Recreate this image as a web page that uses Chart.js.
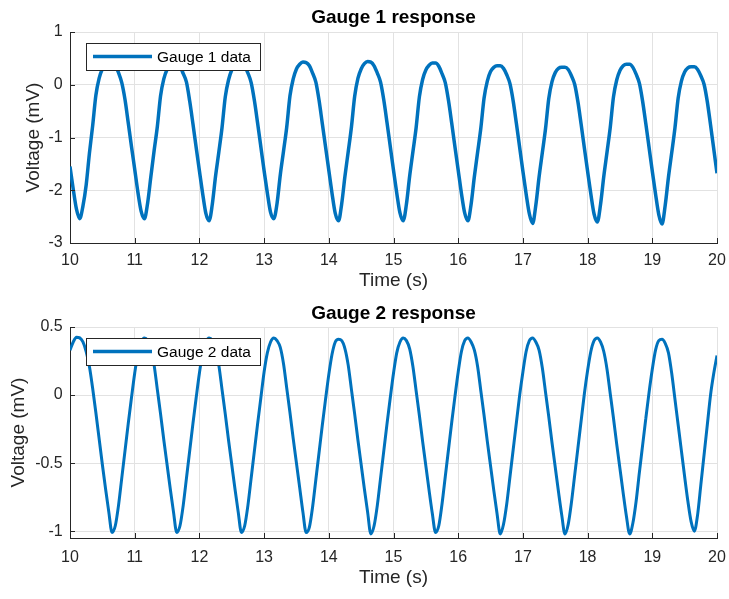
<!DOCTYPE html>
<html>
<head>
<meta charset="utf-8">
<title>Gauge responses</title>
<script src="https://cdn.jsdelivr.net/npm/chart.js@4.4.1/dist/chart.umd.min.js"></script>
<style>
  html, body { margin: 0; padding: 0; background: #fff; }
  #figure { position: relative; width: 729px; height: 599px; }
  #figure canvas { position: absolute; left: 0; }
  #gauge1-chart { top: 0; }
  #gauge2-chart { top: 299px; }
</style>
</head>
<body>
<div id="figure">
  <canvas id="gauge1-chart" width="729" height="299"></canvas>
  <canvas id="gauge2-chart" width="729" height="300"></canvas>
</div>
<script>
// sample times (s), one row per second
const times = [
  10, 10.05, 10.1, 10.15, 10.2, 10.25, 10.3, 10.35, 10.4, 10.45, 10.5, 10.55, 10.6, 10.65, 10.7, 10.75, 10.8, 10.85, 10.9, 10.95,
  11, 11.05, 11.1, 11.15, 11.2, 11.25, 11.3, 11.35, 11.4, 11.45, 11.5, 11.55, 11.6, 11.65, 11.7, 11.75, 11.8, 11.85, 11.9, 11.95,
  12, 12.05, 12.1, 12.15, 12.2, 12.25, 12.3, 12.35, 12.4, 12.45, 12.5, 12.55, 12.6, 12.65, 12.7, 12.75, 12.8, 12.85, 12.9, 12.95,
  13, 13.05, 13.1, 13.15, 13.2, 13.25, 13.3, 13.35, 13.4, 13.45, 13.5, 13.55, 13.6, 13.65, 13.7, 13.75, 13.8, 13.85, 13.9, 13.95,
  14, 14.05, 14.1, 14.15, 14.2, 14.25, 14.3, 14.35, 14.4, 14.45, 14.5, 14.55, 14.6, 14.65, 14.7, 14.75, 14.8, 14.85, 14.9, 14.95,
  15, 15.05, 15.1, 15.15, 15.2, 15.25, 15.3, 15.35, 15.4, 15.45, 15.5, 15.55, 15.6, 15.65, 15.7, 15.75, 15.8, 15.85, 15.9, 15.95,
  16, 16.05, 16.1, 16.15, 16.2, 16.25, 16.3, 16.35, 16.4, 16.45, 16.5, 16.55, 16.6, 16.65, 16.7, 16.75, 16.8, 16.85, 16.9, 16.95,
  17, 17.05, 17.1, 17.15, 17.2, 17.25, 17.3, 17.35, 17.4, 17.45, 17.5, 17.55, 17.6, 17.65, 17.7, 17.75, 17.8, 17.85, 17.9, 17.95,
  18, 18.05, 18.1, 18.15, 18.2, 18.25, 18.3, 18.35, 18.4, 18.45, 18.5, 18.55, 18.6, 18.65, 18.7, 18.75, 18.8, 18.85, 18.9, 18.95,
  19, 19.05, 19.1, 19.15, 19.2, 19.25, 19.3, 19.35, 19.4, 19.45, 19.5, 19.55, 19.6, 19.65, 19.7, 19.75, 19.8, 19.85, 19.9, 19.95,
  20
];

// gauge 1 voltage (mV)
const gauge1Voltage = [
  -1.55, -1.98, -2.36, -2.54, -2.30, -1.90, -1.30, -0.78, -0.20, 0.12, 0.30, 0.38, 0.42, 0.41, 0.36, 0.23, 0.04, -0.28, -0.72, -1.17,
  -1.60, -2.04, -2.40, -2.54, -2.24, -1.74, -1.25, -0.79, -0.21, 0.11, 0.29, 0.38, 0.42, 0.40, 0.35, 0.21, 0.05, -0.31, -0.74, -1.19,
  -1.63, -2.06, -2.44, -2.58, -2.26, -1.73, -1.28, -0.81, -0.23, 0.09, 0.28, 0.38, 0.42, 0.41, 0.34, 0.22, 0.04, -0.30, -0.73, -1.18,
  -1.63, -2.05, -2.42, -2.54, -2.25, -1.71, -1.26, -0.80, -0.21, 0.11, 0.30, 0.39, 0.43, 0.42, 0.36, 0.22, 0.05, -0.30, -0.74, -1.18,
  -1.62, -2.06, -2.44, -2.58, -2.25, -1.73, -1.27, -0.80, -0.22, 0.12, 0.30, 0.40, 0.44, 0.43, 0.36, 0.22, 0.05, -0.29, -0.72, -1.17,
  -1.62, -2.05, -2.43, -2.58, -2.26, -1.73, -1.27, -0.81, -0.23, 0.10, 0.28, 0.37, 0.41, 0.41, 0.35, 0.21, 0.04, -0.30, -0.73, -1.18,
  -1.62, -2.06, -2.43, -2.58, -2.26, -1.74, -1.28, -0.82, -0.25, 0.07, 0.25, 0.33, 0.36, 0.36, 0.31, 0.19, 0.02, -0.31, -0.74, -1.19,
  -1.64, -2.07, -2.45, -2.63, -2.28, -1.75, -1.29, -0.83, -0.26, 0.06, 0.23, 0.31, 0.33, 0.33, 0.29, 0.17, 0.01, -0.32, -0.75, -1.20,
  -1.64, -2.07, -2.45, -2.60, -2.27, -1.74, -1.28, -0.81, -0.23, 0.09, 0.27, 0.36, 0.39, 0.39, 0.33, 0.20, 0.03, -0.31, -0.74, -1.19,
  -1.64, -2.07, -2.46, -2.64, -2.28, -1.75, -1.29, -0.82, -0.25, 0.07, 0.24, 0.32, 0.34, 0.34, 0.29, 0.17, 0.01, -0.32, -0.76, -1.22,
  -1.68
];

// gauge 2 voltage (mV)
const gauge2Voltage = [
  0.33, 0.39, 0.425, 0.42, 0.39, 0.32, 0.21, 0.05, -0.13, -0.32, -0.51, -0.69, -0.86, -1.01, -0.96, -0.81, -0.61, -0.41, -0.21, -0.02,
  0.16, 0.31, 0.39, 0.42, 0.40, 0.34, 0.22, 0.04, -0.14, -0.33, -0.51, -0.69, -0.86, -1.01, -0.96, -0.81, -0.61, -0.41, -0.21, -0.02,
  0.16, 0.31, 0.39, 0.42, 0.40, 0.34, 0.22, 0.04, -0.14, -0.33, -0.51, -0.69, -0.86, -1.01, -0.96, -0.81, -0.61, -0.41, -0.21, -0.02,
  0.17, 0.31, 0.39, 0.42, 0.40, 0.35, 0.23, 0.05, -0.13, -0.32, -0.50, -0.68, -0.86, -1.01, -0.97, -0.82, -0.62, -0.42, -0.22, -0.03,
  0.15, 0.30, 0.39, 0.41, 0.40, 0.34, 0.22, 0.04, -0.14, -0.33, -0.51, -0.69, -0.86, -1.02, -0.96, -0.81, -0.61, -0.41, -0.21, -0.02,
  0.16, 0.31, 0.39, 0.42, 0.40, 0.34, 0.21, 0.03, -0.15, -0.34, -0.52, -0.70, -0.87, -1.01, -0.96, -0.80, -0.60, -0.40, -0.20, -0.01,
  0.17, 0.32, 0.40, 0.42, 0.39, 0.33, 0.21, 0.03, -0.15, -0.34, -0.52, -0.70, -0.87, -1.02, -0.95, -0.80, -0.60, -0.40, -0.20, 0.00,
  0.17, 0.32, 0.40, 0.42, 0.39, 0.33, 0.20, 0.02, -0.16, -0.35, -0.53, -0.71, -0.88, -1.02, -0.95, -0.79, -0.59, -0.39, -0.19, 0.01,
  0.18, 0.32, 0.40, 0.42, 0.39, 0.32, 0.19, 0.01, -0.17, -0.36, -0.54, -0.72, -0.89, -1.02, -0.94, -0.78, -0.57, -0.37, -0.17, 0.02,
  0.19, 0.33, 0.40, 0.41, 0.38, 0.31, 0.16, -0.03, -0.22, -0.41, -0.60, -0.78, -0.93, -1.00, -0.88, -0.66, -0.44, -0.22, 0.00, 0.16,
  0.29
];

const timeTicks = [10, 11, 12, 13, 14, 15, 16, 17, 18, 19, 20];
const gauge1Ticks = [-3, -2, -1, 0, 1];
const gauge2Ticks = [-1, -0.5, 0, 0.5];

const LINE_BLUE = '#0072BD';
const AXIS_GRAY = '#262626';
const GRID_GRAY = '#e2e2e2';
const FONT = "'Liberation Sans', Arial, Helvetica, sans-serif";

Chart.defaults.font.family = FONT;
Chart.defaults.color = AXIS_GRAY;

/**
 * Inward tick marks plus a boxed legend inside the axes
 */
const matlabAxes = {
  id: 'matlabAxes',
  afterDraw(chart, args, opts) {
    const { ctx, chartArea: area, scales: { x, y } } = chart;
    ctx.save();

    ctx.strokeStyle = AXIS_GRAY;
    ctx.lineWidth = 1;
    ctx.beginPath();
    x.ticks.forEach(t => {
      const px = Math.round(x.getPixelForValue(t.value)) + 0.5;
      ctx.moveTo(px, area.bottom);
      ctx.lineTo(px, area.bottom - 5);
    });
    y.ticks.forEach(t => {
      const py = Math.round(y.getPixelForValue(t.value)) + 0.5;
      ctx.moveTo(area.left, py);
      ctx.lineTo(area.left + 5, py);
    });
    ctx.stroke();

    const ds = chart.data.datasets[0];
    const lx = Math.round(area.left + opts.left);
    const ly = Math.round(area.top + opts.top);
    const midY = ly + opts.height / 2;
    ctx.fillStyle = '#ffffff';
    ctx.fillRect(lx, ly, opts.width, opts.height);
    ctx.strokeStyle = AXIS_GRAY;
    ctx.strokeRect(lx + 0.5, ly + 0.5, opts.width, opts.height);

    ctx.strokeStyle = ds.borderColor;
    ctx.lineWidth = 3.5;
    ctx.beginPath();
    ctx.moveTo(lx + 7, midY);
    ctx.lineTo(lx + 66, midY);
    ctx.stroke();

    ctx.fillStyle = '#000000';
    ctx.font = '15.5px ' + FONT;
    ctx.textAlign = 'left';
    ctx.textBaseline = 'middle';
    ctx.fillText(ds.label, lx + 71, midY + 1);
    ctx.restore();
  }
};

/**
 * One gauge subplot
 */
function createGaugeChart(id, cfg) {
  const ctx = document.getElementById(id);
  return new Chart(ctx, {
    type: 'line',
    data: {
      datasets: [{
        label: cfg.label,
        data: times.map((t, i) => ({ x: t, y: cfg.values[i] })),
        borderColor: LINE_BLUE,
        borderWidth: cfg.lineWidth,
        pointRadius: 0,
        cubicInterpolationMode: 'monotone',
        fill: false
      }]
    },
    options: {
      responsive: false,
      animation: false,
      devicePixelRatio: 1,
      layout: { padding: { left: 0, right: 12, top: 0, bottom: 0 } },
      plugins: {
        legend: { display: false },
        tooltip: { enabled: false },
        title: {
          display: true,
          text: cfg.title,
          fullSize: false,
          color: '#000000',
          font: { size: 19, weight: 'bold', lineHeight: 1.2 },
          padding: cfg.titlePad
        },
        matlabAxes: { left: 16, top: 11, width: 174, height: 27 }
      },
      scales: {
        x: {
          type: 'linear',
          min: 10,
          max: 20,
          afterBuildTicks: s => { s.ticks = timeTicks.map(v => ({ value: v })); },
          afterFit: s => { s.height = cfg.xHeight; s.paddingLeft = 0; s.paddingRight = 0; },
          grid: { color: GRID_GRAY, drawTicks: false },
          border: { color: AXIS_GRAY, width: 1 },
          ticks: {
            padding: cfg.xTickPad,
            font: { size: 16 },
            color: AXIS_GRAY,
            maxRotation: 0,
            callback: v => String(v)
          },
          title: {
            display: true,
            text: 'Time (s)',
            font: { size: 19, lineHeight: 1.2 },
            color: AXIS_GRAY,
            padding: { top: 0, bottom: cfg.xTitlePad }
          }
        },
        y: {
          type: 'linear',
          min: cfg.yMin,
          max: cfg.yMax,
          afterBuildTicks: s => { s.ticks = cfg.yTicks.map(v => ({ value: v })); },
          afterFit: s => { s.width = 70; s.paddingTop = 0; s.paddingBottom = 0; },
          grid: { color: GRID_GRAY, drawTicks: false },
          border: { color: AXIS_GRAY, width: 1 },
          ticks: {
            padding: 7.3,
            font: { size: 16 },
            color: AXIS_GRAY,
            callback: v => String(v)
          },
          title: {
            display: true,
            text: 'Voltage (mV)',
            font: { size: 19, lineHeight: 1.2 },
            color: AXIS_GRAY,
            padding: { top: cfg.yTitlePad, bottom: 0 }
          }
        }
      }
    },
    plugins: [matlabAxes]
  });
}

createGaugeChart('gauge1-chart', {
  title: 'Gauge 1 response',
  label: 'Gauge 1 data',
  values: gauge1Voltage,
  yMin: -3,
  yMax: 1,
  yTicks: gauge1Ticks,
  lineWidth: 3.5,
  titlePad: { top: 6.6, bottom: 2.6 },
  xHeight: 56,
  xTickPad: 8.2,
  xTitlePad: 6.6,
  yTitlePad: 22.6
});

createGaugeChart('gauge2-chart', {
  title: 'Gauge 2 response',
  label: 'Gauge 2 data',
  values: gauge2Voltage,
  yMin: -1.05,
  yMax: 0.5,
  yTicks: gauge2Ticks,
  lineWidth: 3,
  titlePad: { top: 3.8, bottom: 1.4 },
  xHeight: 61,
  xTickPad: 9.9,
  xTitlePad: 9.6,
  yTitlePad: 7.6
});
</script>
</body>
</html>
